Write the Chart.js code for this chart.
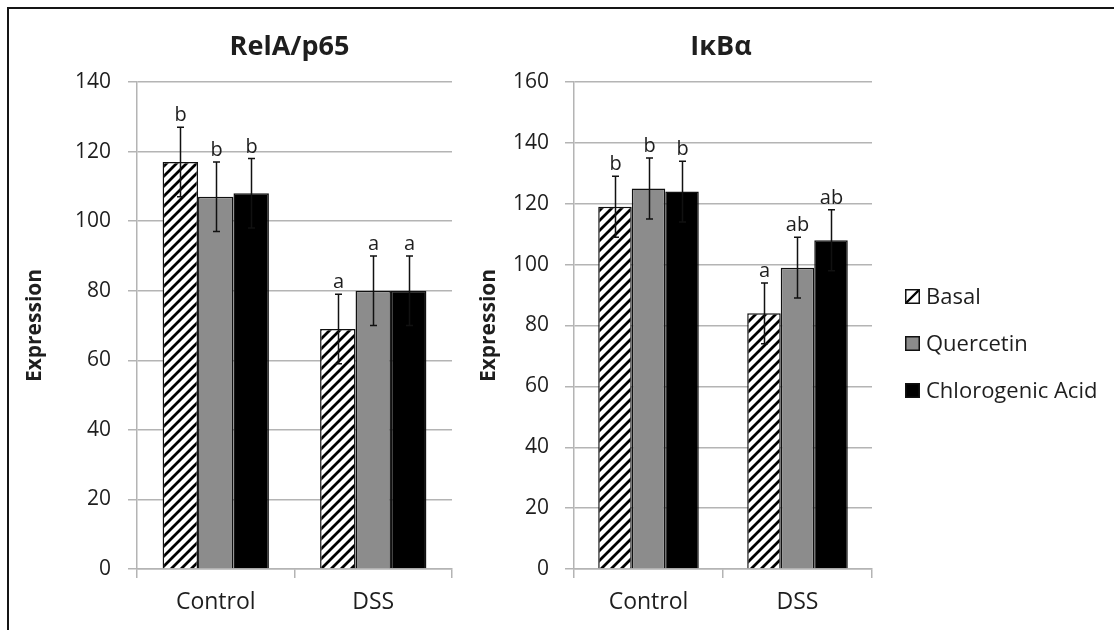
<!DOCTYPE html>
<html>
<head>
<meta charset="utf-8">
<script src="https://cdn.jsdelivr.net/npm/chart.js@4.4.1/dist/chart.umd.min.js"></script>
<style>
  html, body { margin: 0; padding: 0; background: #fff; width: 1114px; height: 630px; overflow: hidden; }
  canvas { position: absolute; top: 0; }
  #frame { position: absolute; left: 7px; top: 7px; right: -10px; bottom: -10px;
           border-top: 2px solid #151515; border-left: 2px solid #151515; pointer-events: none; }
</style>
</head>
<body>
<canvas id="c1" width="470" height="630" style="left:0px"></canvas>
<canvas id="c2" width="644" height="630" style="left:470px"></canvas>
<div id="frame"></div>
<script>
// ---------- DATA ----------
const categories = ['Control', 'DSS'];
const seriesNames = ['Basal', 'Quercetin', 'Chlorogenic Acid'];

const relaTitle = 'RelA/p65';
const relaBasal = [117, 69];
const relaQuercetin = [107, 80];
const relaChlorogenic = [108, 80];
const relaBasalErr = [10, 10];
const relaQuercetinErr = [10, 10];
const relaChlorogenicErr = [10, 10];
const relaBasalLetters = ['b', 'a'];
const relaQuercetinLetters = ['b', 'a'];
const relaChlorogenicLetters = ['b', 'a'];
const relaTicks = [0, 20, 40, 60, 80, 100, 120, 140];

const ikbTitle = 'IκBα';
const ikbBasal = [119, 84];
const ikbQuercetin = [125, 99];
const ikbChlorogenic = [124, 108];
const ikbBasalErr = [10, 10];
const ikbQuercetinErr = [10, 10];
const ikbChlorogenicErr = [10, 10];
const ikbBasalLetters = ['b', 'a'];
const ikbQuercetinLetters = ['b', 'ab'];
const ikbChlorogenicLetters = ['b', 'ab'];
const ikbTicks = [0, 20, 40, 60, 80, 100, 120, 140, 160];

const yTitle = 'Expression';

// ---------- STYLE ----------
const FONT = '"Open Sans", Lato, "DejaVu Sans", sans-serif';
const TXT = '#1e1e1e';
const GRID = '#b4b4b4';
const GRAY = '#8c8c8c';

function hatchPattern() {
  const s = 10;
  const c = document.createElement('canvas');
  c.width = s; c.height = s;
  const g = c.getContext('2d');
  g.fillStyle = '#fff'; g.fillRect(0, 0, s, s);
  g.strokeStyle = '#000'; g.lineWidth = 2.8; g.lineCap = 'square';
  g.beginPath();
  g.moveTo(-2, s + 2); g.lineTo(s + 2, -2);
  g.moveTo(-2, 2); g.lineTo(2, -2);
  g.moveTo(s - 2, s + 2); g.lineTo(s + 2, s - 2);
  g.stroke();
  return g.createPattern(c, 'repeat');
}
const HATCH = hatchPattern();

const errorBarPlugin = {
  id: 'errorBars',
  afterDatasetsDraw(chart) {
    const ctx = chart.ctx;
    const ys = chart.scales.y;
    ctx.save();
    chart.data.datasets.forEach((ds, i) => {
      const meta = chart.getDatasetMeta(i);
      meta.data.forEach((el, j) => {
        const v = ds.data[j], e = ds.errors[j];
        const x = Math.round(el.x) + 0.5;
        const yt = ys.getPixelForValue(v + e);
        const yb = ys.getPixelForValue(v - e);
        ctx.strokeStyle = '#111';
        ctx.lineWidth = 1.5;
        ctx.beginPath();
        ctx.moveTo(x, yt); ctx.lineTo(x, yb);
        ctx.moveTo(x - 3.5, yt); ctx.lineTo(x + 3.5, yt);
        ctx.moveTo(x - 3.5, yb); ctx.lineTo(x + 3.5, yb);
        ctx.stroke();
        ctx.fillStyle = TXT;
        ctx.font = '20px ' + FONT;
        ctx.textAlign = 'center';
        ctx.textBaseline = 'alphabetic';
        ctx.fillText(ds.letters[j], x, yt - 6);
      });
    });
    ctx.restore();
  }
};

const titlePlugin = {
  id: 'panelTitle',
  afterDraw(chart, args, opts) {
    const ctx = chart.ctx;
    const a = chart.chartArea;
    ctx.save();
    ctx.fillStyle = TXT;
    ctx.font = 'bold 27px ' + FONT;
    ctx.textAlign = 'center';
    ctx.textBaseline = 'middle';
    ctx.fillText(opts.text, (a.left + a.right) / 2 + opts.dx, 47);
    ctx.restore();
  }
};

const legendPlugin = {
  id: 'sideLegend',
  afterDraw(chart, args, opts) {
    if (!opts.show) return;
    const ctx = chart.ctx;
    ctx.save();
    const bx = opts.x, size = 15;
    chart.data.datasets.forEach((ds, i) => {
      const by = opts.y + i * opts.gap;
      if (i === 0) {
        ctx.fillStyle = '#fff';
        ctx.fillRect(bx, by, size, size);
        ctx.strokeStyle = '#000'; ctx.lineWidth = 2.4;
        ctx.beginPath(); ctx.moveTo(bx + 1, by + size - 1); ctx.lineTo(bx + size - 1, by + 1); ctx.stroke();
      } else {
        ctx.fillStyle = ds.backgroundColor;
        ctx.fillRect(bx, by, size, size);
      }
      ctx.strokeStyle = '#111'; ctx.lineWidth = 1.5;
      ctx.strokeRect(bx + 0.75, by + 0.75, size - 1.5, size - 1.5);
      ctx.fillStyle = TXT;
      ctx.font = '22px ' + FONT;
      ctx.textAlign = 'left';
      ctx.textBaseline = 'middle';
      ctx.fillText(ds.label, bx + size + 6, by + size / 2 + 1);
    });
    ctx.restore();
  }
};

function makeDatasets(vals, errs, letters) {
  const fills = [HATCH, GRAY, '#000'];
  return vals.map((v, i) => ({
    label: seriesNames[i],
    data: v,
    errors: errs[i],
    letters: letters[i],
    backgroundColor: fills[i],
    borderColor: '#111',
    borderWidth: 1.5,
    categoryPercentage: 0.675,
    barPercentage: 1.0
  }));
}

function makeChart(id, title, titleDx, datasets, ticks, axisWidth, padRight, titlePad, labelPad, legend) {
  return new Chart(document.getElementById(id), {
    type: 'bar',
    data: { labels: categories, datasets: datasets },
    options: {
      responsive: false,
      animation: false,
      devicePixelRatio: 1,
      layout: { padding: { top: 82, left: 0, right: padRight, bottom: 11 } },
      plugins: {
        legend: { display: false },
        tooltip: { enabled: false },
        panelTitle: { text: title, dx: titleDx },
        sideLegend: legend
      },
      scales: {
        x: {
          grid: { display: true, drawOnChartArea: false, drawTicks: true, tickLength: 9, color: GRID, lineWidth: 1.5, offset: true },
          border: { display: true, color: GRID, width: 1.5 },
          ticks: { color: TXT, font: { family: FONT, size: 23 }, padding: 11 },
          afterFit(s) { s.height = 50; }
        },
        y: {
          min: ticks[0],
          max: ticks[ticks.length - 1],
          afterBuildTicks(s) { s.ticks = ticks.map(v => ({ value: v })); },
          grid: { color: GRID, lineWidth: 1.5, tickLength: 9, drawTicks: true },
          border: { display: true, color: GRID, width: 1.5 },
          ticks: { color: TXT, font: { family: FONT, size: 21 }, padding: labelPad },
          title: { display: true, text: yTitle, color: TXT, font: { family: FONT, size: 21, weight: 'bold' }, padding: { top: titlePad, bottom: 0 } },
          afterFit(s) { s.width = axisWidth; }
        }
      }
    },
    plugins: [errorBarPlugin, titlePlugin, legendPlugin]
  });
}

makeChart('c1', relaTitle, -5,
  makeDatasets([relaBasal, relaQuercetin, relaChlorogenic],
               [relaBasalErr, relaQuercetinErr, relaChlorogenicErr],
               [relaBasalLetters, relaQuercetinLetters, relaChlorogenicLetters]),
  relaTicks, 137, 18, 22, 17, { show: false });

makeChart('c2', ikbTitle, -2,
  makeDatasets([ikbBasal, ikbQuercetin, ikbChlorogenic],
               [ikbBasalErr, ikbQuercetinErr, ikbChlorogenicErr],
               [ikbBasalLetters, ikbQuercetinLetters, ikbChlorogenicLetters]),
  ikbTicks, 104, 242, 6, 16, { show: true, x: 435, y: 289, gap: 47 });
</script>
</body>
</html>
